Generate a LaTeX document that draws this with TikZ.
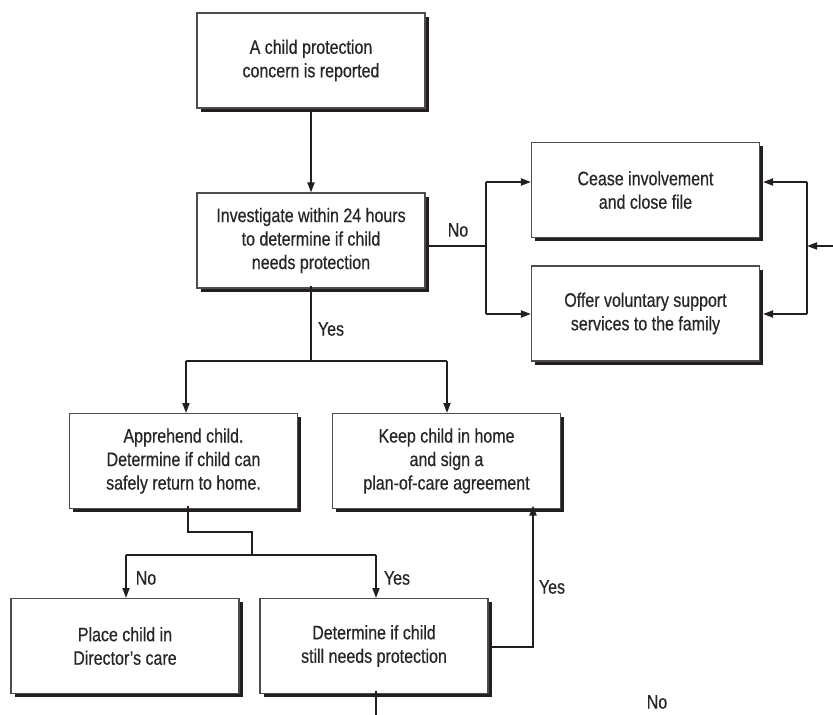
\documentclass[tikz,border=0pt]{standalone}
\usepackage{fontspec}
\setmainfont{Liberation Sans}[FakeStretch=0.82,FakeBold=0.5]
\usetikzlibrary{arrows.meta,shadows}
\definecolor{ink}{HTML}{231F20}
\definecolor{txt}{HTML}{262626}
\begin{document}
\begin{tikzpicture}[x=1pt,y=-1pt,
  box/.style={draw=ink!80, line width=1.1pt, fill=white, minimum width=228pt, minimum height=95pt,
    align=center, inner sep=2pt, text=txt, font=\fontsize{19.5}{23.5}\selectfont,
    drop shadow={shadow xshift=3.5pt, shadow yshift=-3.5pt, opacity=1, fill=ink}},
  conn/.style={draw=ink, line width=1.8pt},
  arr/.style={conn, -{Triangle[length=10pt,width=7pt]}},
  lbl/.style={text=txt, font=\fontsize{19.5}{23.5}\selectfont, inner sep=0pt}]
\useasboundingbox (0,0) rectangle (833,715);

\node[box] (report) at (311,60.5) {A child protection\\concern is reported};
\node[box] (invest) at (311,240.5) {Investigate within 24 hours\\to determine if child\\needs protection};
\node[box] (cease) at (645.5,190) {Cease involvement\\and close file};
\node[box] (offer) at (645.5,313.5) {Offer voluntary support\\services to the family};
\node[box] (appr) at (183.5,461) {Apprehend child.\\Determine if child can\\safely return to home.};
\node[box] (keep) at (446.5,461) {Keep child in home\\and sign a\\plan-of-care agreement};
\node[box] (place) at (125,646) {Place child in\\Director’s care};
\node[box] (determ) at (374,646) {Determine if child\\still needs protection};

% report -> invest
\draw[arr] (report.south) -- (invest.north);

% No branch
\coordinate (nojoin) at (486,246);
\draw[conn] (invest.east |- nojoin) -- (nojoin);
\draw[arr] (486,182) -- (cease.west |- 0,182);
\draw[arr] (486,314) -- (offer.west |- 0,314);
\draw[conn] (486,182) -- (486,314);
\node[lbl] (nolbl) at (458,230) {No};

% right side incoming
\coordinate (rin) at (833,246);
\coordinate (rjoin) at (807,246);
\draw[arr] (rin) -- (rjoin);
\draw[conn] (807,182) -- (807,314);
\draw[arr] (807,182) -- ([xshift=3pt]cease.east |- 0,182);
\draw[arr] (807,314) -- ([xshift=3pt]offer.east |- 0,314);

% Yes branch
\coordinate (yesjoin) at (311,361);
\draw[conn] ([yshift=3pt]invest.south) -- (yesjoin);
\draw[conn] (186,361) -- (447,361);
\draw[arr] (186,361) -- (186,413);
\draw[arr] (447,361) -- (447,413);
\node[lbl] (yeslbl) at (331,329) {Yes};

% Apprehend decision
\coordinate (a1) at (188,532);
\coordinate (a2) at (252,532);
\coordinate (a3) at (252,555);
\draw[conn] ([yshift=3pt]appr.south -| a1) -- (a1) -- (a2) -- (a3);
\draw[conn] (126,555) -- (376,555);
\draw[arr] (126,555) -- (126,598);
\draw[arr] (376,555) -- (376,598);
\node[lbl] (nolbl2) at (146,578) {No};
\node[lbl] (yeslbl2) at (397,578) {Yes};

% Determine -> Keep
\coordinate (d1) at (533,647);
\draw[arr] ([xshift=3pt]determ.east |- d1) -- (d1) -- ([yshift=3.5pt]keep.south -| d1);
\node[lbl] (yeslbl3) at (552,587) {Yes};

% Determine bottom
\coordinate (dbot) at (376,715);
\draw[conn] ([yshift=3pt]determ.south -| dbot) -- (dbot);
\node[lbl] (nolbl3) at (657,702) {No};
\end{tikzpicture}
\end{document}
